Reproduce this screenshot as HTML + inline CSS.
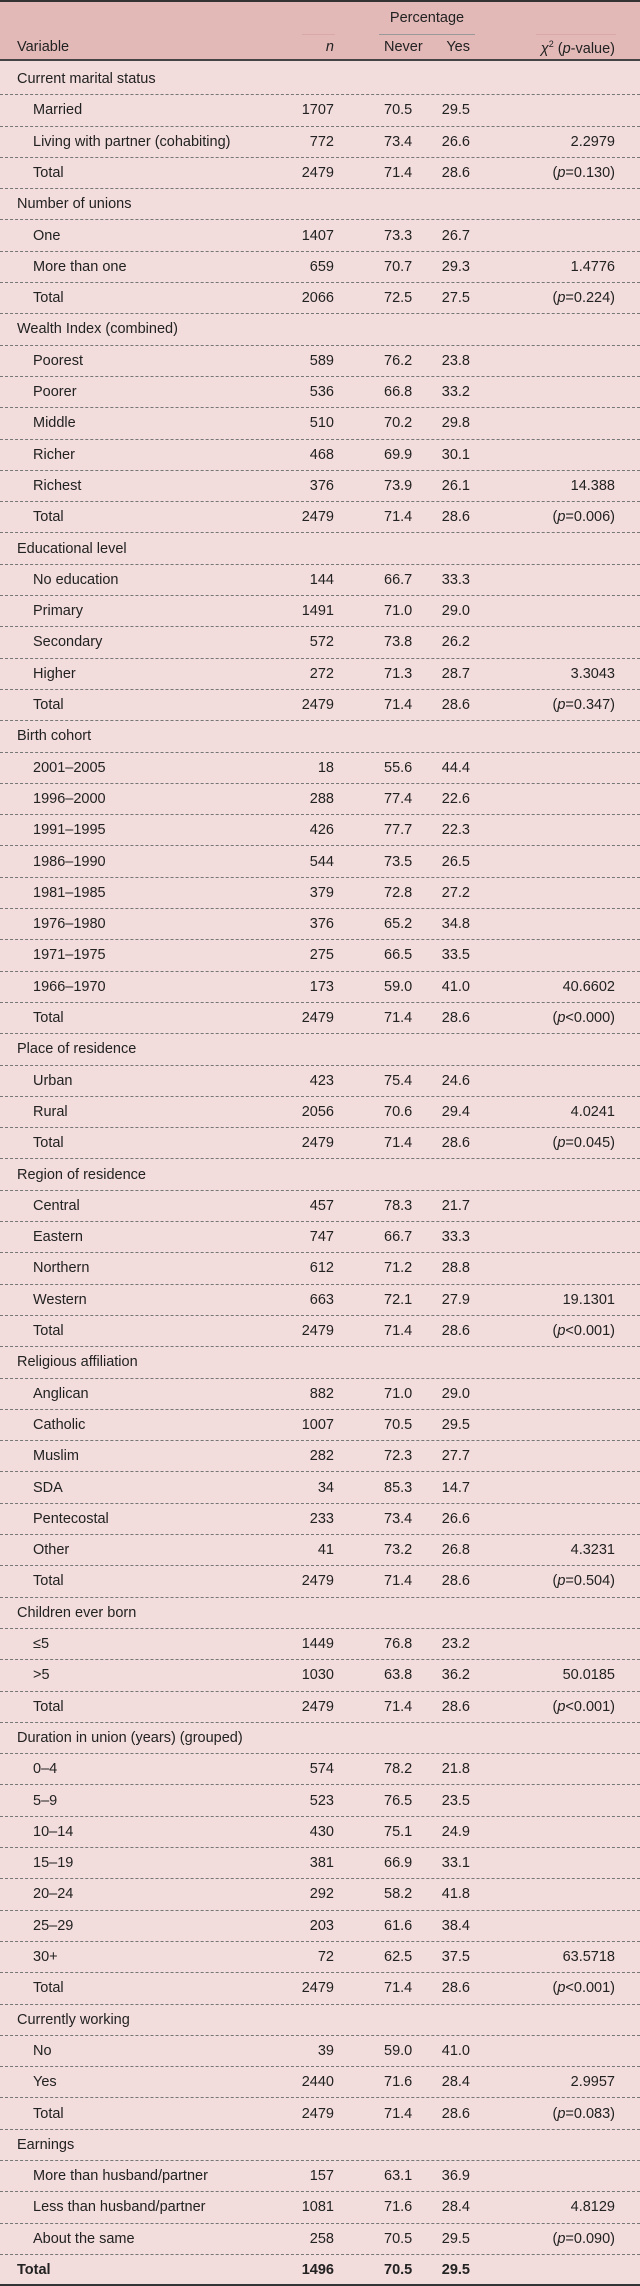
<!DOCTYPE html>
<html><head><meta charset="utf-8">
<style>
body{margin:0;width:640px;height:2285px;background:#f3dcdc;font-family:"Liberation Sans Narrow","Liberation Sans",sans-serif;font-size:14.5px;color:#222;position:relative;overflow:hidden}
.a{position:absolute;white-space:nowrap}
#hdr{position:absolute;left:0;top:0;width:640px;height:61px;background:#e3b9b8;border-top:2px solid #333;border-bottom:2px solid #444;box-sizing:border-box}
.row{position:absolute;left:0;width:640px;height:31.3px;border-bottom:1px dashed #777;box-sizing:border-box}
.row .a{top:7px}
.hl{position:absolute;height:1px;background:#999}
</style></head>
<body>
<div id="hdr">
  <div class="a" style="left:379px;width:96px;text-align:center;top:8px">Percentage</div>
  <div class="hl" style="left:379px;width:96px;top:32px"></div>
  <div class="hl" style="left:302px;width:33px;top:32px;background:#d9a9a8"></div>
  <div class="hl" style="left:536px;width:80px;top:32px;background:#d9a9a8"></div>
  <div class="a" style="left:17px;top:37px">Variable</div>
  <div class="a" style="right:306px;top:37px;font-style:italic">n</div>
  <div class="a" style="left:384px;top:37px">Never</div>
  <div class="a" style="right:170px;top:37px">Yes</div>
  <div class="a" style="right:25px;top:37px"><i>χ</i><sup style="font-size:9px">2</sup> (<i>p</i>-value)</div>
</div>
<script>
const labels=["Current marital status","Married","Living with partner (cohabiting)","Total","Number of unions","One","More than one","Total","Wealth Index (combined)","Poorest","Poorer","Middle","Richer","Richest","Total","Educational level","No education","Primary","Secondary","Higher","Total","Birth cohort","2001–2005","1996–2000","1991–1995","1986–1990","1981–1985","1976–1980","1971–1975","1966–1970","Total","Place of residence","Urban","Rural","Total","Region of residence","Central","Eastern","Northern","Western","Total","Religious affiliation","Anglican","Catholic","Muslim","SDA","Pentecostal","Other","Total","Children ever born","≤5",">5","Total","Duration in union (years) (grouped)","0–4","5–9","10–14","15–19","20–24","25–29","30+","Total","Currently working","No","Yes","Total","Earnings","More than husband/partner","Less than husband/partner","About the same","Total"];
const nVals=["","1707","772","2479","","1407","659","2066","","589","536","510","468","376","2479","","144","1491","572","272","2479","","18","288","426","544","379","376","275","173","2479","","423","2056","2479","","457","747","612","663","2479","","882","1007","282","34","233","41","2479","","1449","1030","2479","","574","523","430","381","292","203","72","2479","","39","2440","2479","","157","1081","258","1496"];
const neverVals=["","70.5","73.4","71.4","","73.3","70.7","72.5","","76.2","66.8","70.2","69.9","73.9","71.4","","66.7","71.0","73.8","71.3","71.4","","55.6","77.4","77.7","73.5","72.8","65.2","66.5","59.0","71.4","","75.4","70.6","71.4","","78.3","66.7","71.2","72.1","71.4","","71.0","70.5","72.3","85.3","73.4","73.2","71.4","","76.8","63.8","71.4","","78.2","76.5","75.1","66.9","58.2","61.6","62.5","71.4","","59.0","71.6","71.4","","63.1","71.6","70.5","70.5"];
const yesVals=["","29.5","26.6","28.6","","26.7","29.3","27.5","","23.8","33.2","29.8","30.1","26.1","28.6","","33.3","29.0","26.2","28.7","28.6","","44.4","22.6","22.3","26.5","27.2","34.8","33.5","41.0","28.6","","24.6","29.4","28.6","","21.7","33.3","28.8","27.9","28.6","","29.0","29.5","27.7","14.7","26.6","26.8","28.6","","23.2","36.2","28.6","","21.8","23.5","24.9","33.1","41.8","38.4","37.5","28.6","","41.0","28.4","28.6","","36.9","28.4","29.5","29.5"];
const chiVals=["","","2.2979","p=0.130","","","1.4776","p=0.224","","","","","","14.388","p=0.006","","","","","3.3043","p=0.347","","","","","","","","","40.6602","p<0.000","","","4.0241","p=0.045","","","","","19.1301","p<0.001","","","","","","","4.3231","p=0.504","","","50.0185","p<0.001","","","","","","","","63.5718","p<0.001","","","2.9957","p=0.083","","","4.8129","p=0.090",""];
labels.forEach((lab,i)=>{
  const r=document.createElement('div');
  r.className='row';
  r.style.top=(64+i*31.3)+'px';
  const isHead=nVals[i]==='';
  const last=i===labels.length-1;
  if(last){r.style.borderBottom='2px solid #333';r.style.fontWeight='bold';}
  
  
  const l=document.createElement('div');l.className='a';l.style.left=(isHead||last?17:33)+'px';l.textContent=lab;
  
  
  r.appendChild(l);
  if(!isHead){
    const n=document.createElement('div');n.className='a';n.style.right='306px';n.textContent=nVals[i];
    
    
    r.appendChild(n);
    const nv=document.createElement('div');nv.className='a';nv.style.left='384px';nv.textContent=neverVals[i];
    
    
    r.appendChild(nv);
    const y=document.createElement('div');y.className='a';y.style.right='170px';y.textContent=yesVals[i];
    
    
    r.appendChild(y);
  }
  const c=chiVals[i];
  if(c){
    const ch=document.createElement('div');ch.className='a';ch.style.right='25px';
    if(c[0]==='p'){ch.innerHTML='(<i>p</i>'+(c[1]==='='?'=':'&lt;')+c.slice(2)+')';}
    else ch.textContent=c;
    
    
    r.appendChild(ch);
  }
  document.body.appendChild(r);
});
</script>
</body></html>
